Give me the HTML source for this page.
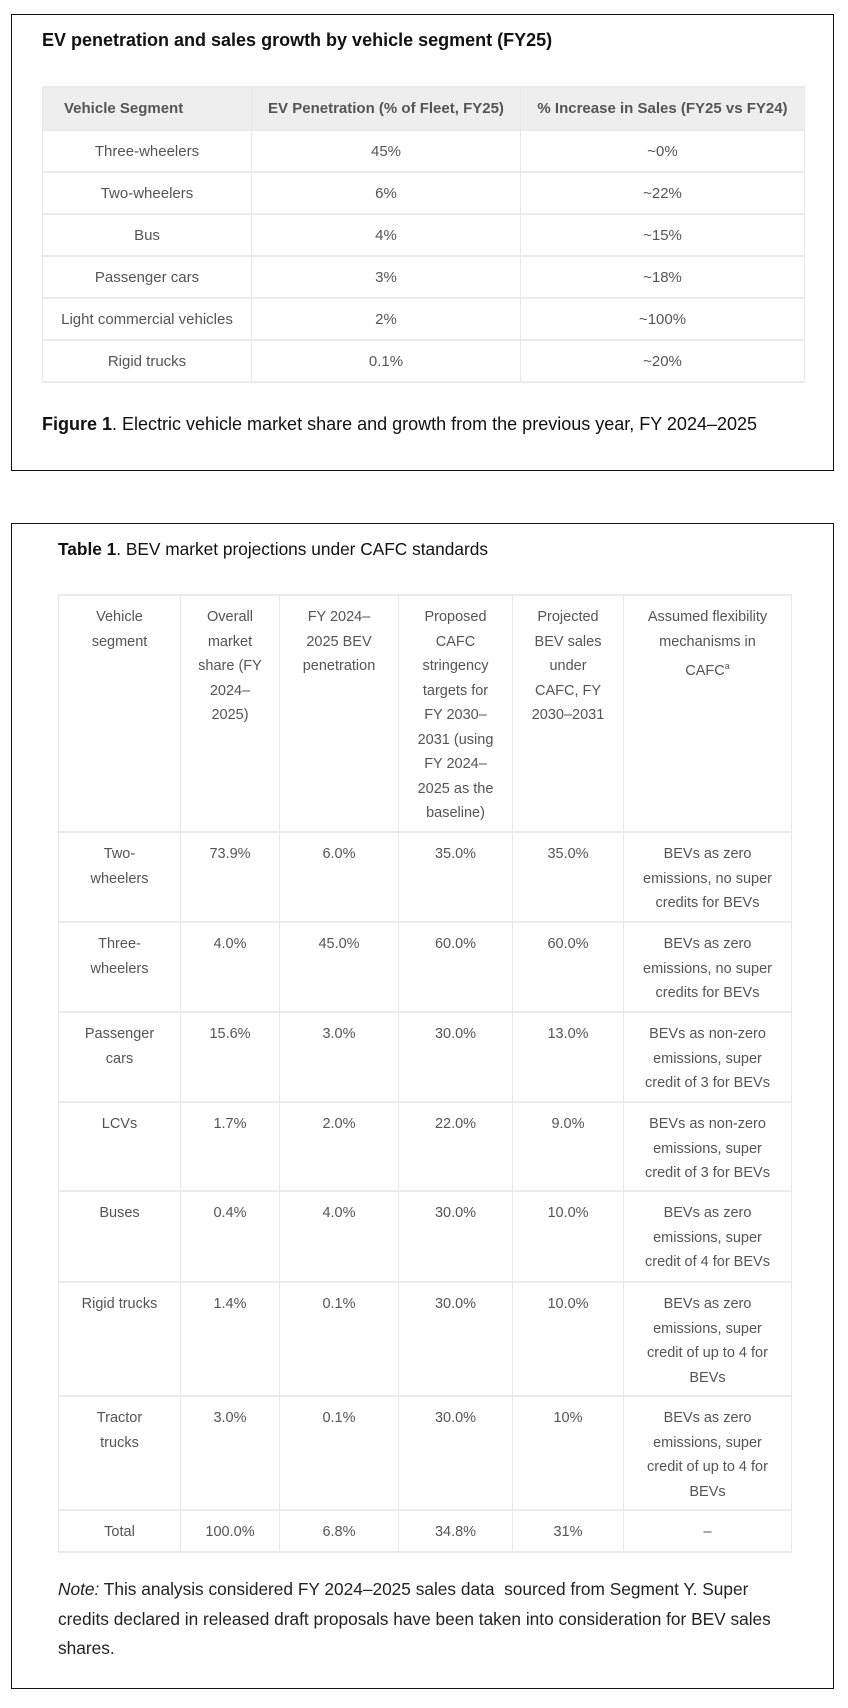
<!DOCTYPE html>
<html><head><meta charset="utf-8"><style>
*{margin:0;padding:0;box-sizing:border-box}
body{width:848px;height:1708px;background:#fff;font-family:"Liberation Sans",Arial,sans-serif;position:relative;overflow:hidden}
.box{position:absolute;left:11px;width:823px;border:1px solid #111}
.abs{position:absolute}
table{border-collapse:collapse;table-layout:fixed;position:absolute}
td,th{color:#555;font-size:14.5px;text-align:center}
#t1 td,#t1 th{border:1px solid #e8e8e8;border-top:2px solid #ebebeb;border-bottom:2px solid #ebebeb;height:42px;vertical-align:middle;font-size:15px}
#t1 th{background:#eee;font-weight:bold;height:43px}
#t2 td{border:1px solid #e8e8e8;border-top:2px solid #ebebeb;border-bottom:2px solid #ebebeb;vertical-align:top;line-height:24.5px;padding:9px 3px 0}
</style></head><body>
<div class="box" style="top:14px;height:457px"></div>
<div class="abs" style="left:42px;top:30px;font-size:18px;font-weight:bold;color:#111">EV penetration and sales growth by vehicle segment (FY25)</div>
<table id="t1" style="left:42px;top:86px;width:762px">
<colgroup><col style="width:209px"><col style="width:269px"><col style="width:284px"></colgroup>
<tr><th style="text-align:left;padding-left:21px">Vehicle Segment</th><th>EV Penetration (% of Fleet, FY25)</th><th>% Increase in Sales (FY25 vs FY24)</th></tr>
<tr><td>Three-wheelers</td><td>45%</td><td>~0%</td></tr>
<tr><td>Two-wheelers</td><td>6%</td><td>~22%</td></tr>
<tr><td>Bus</td><td>4%</td><td>~15%</td></tr>
<tr><td>Passenger cars</td><td>3%</td><td>~18%</td></tr>
<tr><td>Light commercial vehicles</td><td>2%</td><td>~100%</td></tr>
<tr><td>Rigid trucks</td><td>0.1%</td><td>~20%</td></tr>
</table>
<div class="abs" style="left:42px;top:414px;font-size:18px;color:#111"><b>Figure 1</b>. Electric vehicle market share and growth from the previous year, FY 2024–2025</div>

<div class="box" style="top:523px;height:1166px"></div>
<div class="abs" style="left:58px;top:539px;font-size:17.3px;color:#111"><b>Table 1</b>. BEV market projections under CAFC standards</div>
<table id="t2" style="left:58px;top:594px;width:733px">
<colgroup><col style="width:122px"><col style="width:99px"><col style="width:119px"><col style="width:114px"><col style="width:111px"><col style="width:168px"></colgroup>
<tr style="height:237px"><td>Vehicle<br>segment</td><td>Overall<br>market<br>share (FY<br>2024–<br>2025)</td><td>FY 2024–<br>2025 BEV<br>penetration</td><td>Proposed<br>CAFC<br>stringency<br>targets for<br>FY 2030–<br>2031 (using<br>FY 2024–<br>2025 as the<br>baseline)</td><td>Projected<br>BEV sales<br>under<br>CAFC, FY<br>2030–2031</td><td>Assumed flexibility<br>mechanisms in<br>CAFC<sup style="font-size:9px">a</sup></td></tr>
<tr style="height:90px"><td>Two-<br>wheelers</td><td>73.9%</td><td>6.0%</td><td>35.0%</td><td>35.0%</td><td>BEVs as zero<br>emissions, no super<br>credits for BEVs</td></tr>
<tr style="height:90px"><td>Three-<br>wheelers</td><td>4.0%</td><td>45.0%</td><td>60.0%</td><td>60.0%</td><td>BEVs as zero<br>emissions, no super<br>credits for BEVs</td></tr>
<tr style="height:90px"><td>Passenger<br>cars</td><td>15.6%</td><td>3.0%</td><td>30.0%</td><td>13.0%</td><td>BEVs as non-zero<br>emissions, super<br>credit of 3 for BEVs</td></tr>
<tr style="height:89px"><td>LCVs</td><td>1.7%</td><td>2.0%</td><td>22.0%</td><td>9.0%</td><td>BEVs as non-zero<br>emissions, super<br>credit of 3 for BEVs</td></tr>
<tr style="height:91px"><td>Buses</td><td>0.4%</td><td>4.0%</td><td>30.0%</td><td>10.0%</td><td>BEVs as zero<br>emissions, super<br>credit of 4 for BEVs</td></tr>
<tr style="height:114px"><td>Rigid trucks</td><td>1.4%</td><td>0.1%</td><td>30.0%</td><td>10.0%</td><td>BEVs as zero<br>emissions, super<br>credit of up to 4 for<br>BEVs</td></tr>
<tr style="height:114px"><td>Tractor<br>trucks</td><td>3.0%</td><td>0.1%</td><td>30.0%</td><td>10%</td><td>BEVs as zero<br>emissions, super<br>credit of up to 4 for<br>BEVs</td></tr>
<tr style="height:42px"><td>Total</td><td>100.0%</td><td>6.8%</td><td>34.8%</td><td>31%</td><td>–</td></tr>
</table>
<div class="abs" style="left:58px;top:1575px;width:735px;font-size:17.3px;line-height:29.5px;color:#222"><i>Note:</i> This analysis considered FY 2024–2025 sales data&nbsp; sourced from Segment Y. Super<br>credits declared in released draft proposals have been taken into consideration for BEV sales<br>shares.</div>
</body></html>
